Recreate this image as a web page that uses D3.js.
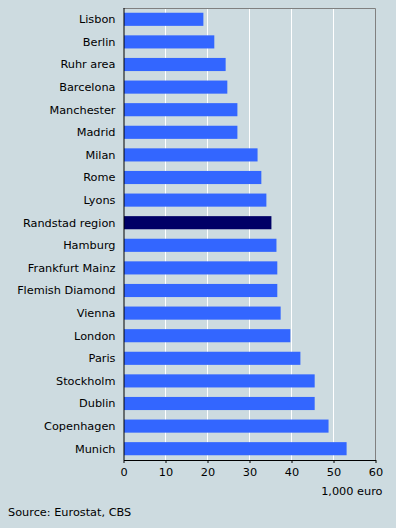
<!DOCTYPE html>
<html>
<head>
<meta charset="utf-8">
<script src="https://cdn.jsdelivr.net/npm/d3@7"></script>
<style>
  body { margin: 0; background: #cddbe0; }
  text { font-family: "DejaVu Sans", Verdana, sans-serif; font-size: 11.3px; fill: #000; }
</style>
</head>
<body>
<div id="chart"></div>
<script>
  // regions, top to bottom
  const regions = ["Lisbon", "Berlin", "Ruhr area", "Barcelona", "Manchester", "Madrid",
    "Milan", "Rome", "Lyons", "Randstad region", "Hamburg", "Frankfurt Mainz",
    "Flemish Diamond", "Vienna", "London", "Paris", "Stockholm", "Dublin",
    "Copenhagen", "Munich"];
  // GDP per capita, 1,000 euro
  const values = [18.9, 21.5, 24.2, 24.6, 27.0, 27.0, 31.8, 32.7, 33.9, 35.1,
    36.3, 36.5, 36.5, 37.3, 39.6, 42.0, 45.4, 45.4, 48.7, 53.0];
  const highlight = "Randstad region";
  const xTicks = [0, 10, 20, 30, 40, 50, 60];

  let width = 396, height = 528;
  let margin = {top: 8, right: 20.5, bottom: 68, left: 123.5};
  let w = width - margin.left - margin.right,
      h = height - margin.top - margin.bottom;

  let svg = d3.select("#chart").append("svg")
      .attr("width", width).attr("height", height);

  svg.append("rect").attr("width", width).attr("height", height).attr("fill", "#cddbe0");

  let g = svg.append("g")
      .attr("transform", "translate(" + margin.left + "," + margin.top + ")");

  let x = d3.scaleLinear().domain([0, 60]).range([0, w]);
  let y = d3.scaleBand().domain(regions).range([0, h]).paddingInner(0.42).paddingOuter(0.21);

  // gridlines
  g.selectAll("line.grid")
    .data(xTicks.slice(1, -1))
    .enter().append("line")
      .attr("class", "grid")
      .attr("x1", d => x(d)).attr("x2", d => x(d))
      .attr("y1", 0).attr("y2", h)
      .attr("stroke", "#fff").attr("stroke-width", 1);

  // top and right frame
  g.append("path")
    .attr("d", "M0,0.5H" + x(60) + "V" + h)
    .attr("fill", "none").attr("stroke", "#808080").attr("stroke-width", 1);

  // bars
  g.selectAll("rect.bar")
    .data(regions)
    .enter().append("rect")
      .attr("class", "bar")
      .attr("x", x(0) + 0.5)
      .attr("y", d => y(d))
      .attr("width", (d, i) => x(values[i]) - x(0))
      .attr("height", y.bandwidth())
      .attr("fill", d => d === highlight ? "#000066" : "#3366ff");

  // category labels
  g.selectAll("text.cat")
    .data(regions)
    .enter().append("text")
      .attr("class", "cat")
      .attr("x", -8)
      .attr("y", d => y(d) + y.bandwidth() / 2)
      .attr("dy", "0.35em")
      .attr("text-anchor", "end")
      .text(d => d);

  // left axis line
  g.append("line")
    .attr("x1", 0.5).attr("x2", 0.5).attr("y1", 0).attr("y2", h)
    .attr("stroke", "#000");

  // bottom axis
  let xAxis = g.append("g")
    .attr("transform", "translate(0," + h + ")")
    .call(d3.axisBottom(x).tickValues(xTicks).tickSize(3).tickPadding(5));
  xAxis.select(".domain").attr("stroke", "#000").attr("d", "M0.5,0.5H" + (x(60) + 0.5));
  xAxis.selectAll(".tick line").attr("stroke", "#000");
  xAxis.selectAll("text").style("font-family", "DejaVu Sans, Verdana, sans-serif").style("font-size", "11.3px");

  g.append("text")
    .attr("x", x(60) + 7)
    .attr("y", h + 31)
    .attr("dy", "0.35em")
    .attr("text-anchor", "end")
    .text("1,000 euro");

  svg.append("text")
    .attr("x", 8)
    .attr("y", 512)
    .attr("dy", "0.35em")
    .text("Source: Eurostat, CBS");
</script>
</body>
</html>
